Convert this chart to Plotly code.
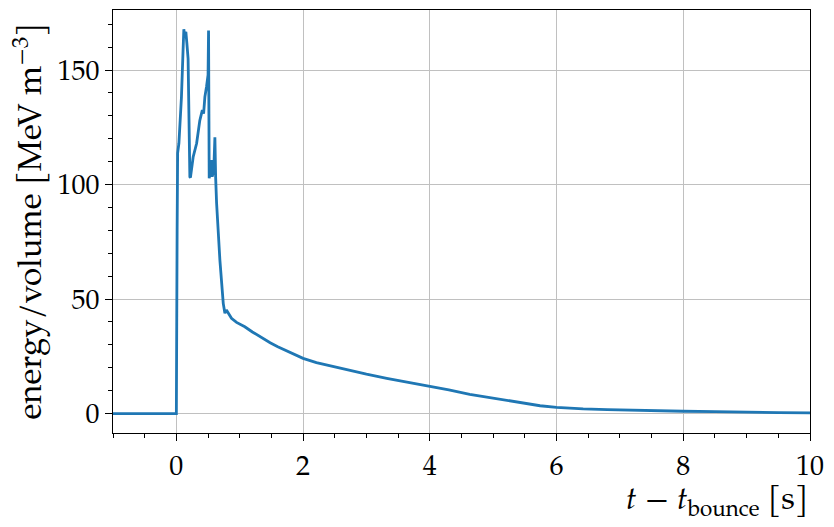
import plotly.graph_objects as go

# values
t_post = [-1.2, 0.0, 0.012, 0.02, 0.04, 0.08, 0.105, 0.118, 0.13, 0.15, 0.165, 0.175, 0.185,
          0.213, 0.222, 0.265, 0.32, 0.37, 0.41, 0.43, 0.45, 0.476, 0.49, 0.5, 0.508,
          0.518, 0.535, 0.555, 0.565, 0.59, 0.608, 0.615, 0.62, 0.635, 0.66, 0.687,
          0.74, 0.766, 0.79, 0.87, 0.95, 1.08, 1.2, 1.32, 1.48, 1.6, 1.74, 2.0, 2.21,
          2.45, 2.69, 3.0, 3.32, 3.65, 4.0, 4.3, 4.63, 4.9, 5.1, 5.42, 5.74, 6.0,
          6.42, 6.8, 7.21, 7.6, 8.0, 8.5, 9.05, 9.5, 10.2]
energy_density = [0.0, 0.0, 80.0, 113.7, 118.0, 138.0, 158.0, 167.8, 165.0, 166.7, 162.0, 158.7, 155.0,
                  103.4, 103.0, 112.0, 118.0, 128.0, 132.5, 131.0, 138.3, 142.7, 145.0, 147.8, 167.2,
                  102.7, 105.0, 110.7, 103.4, 106.0, 120.6, 103.4, 103.0, 91.8, 79.0, 67.0,
                  48.1, 43.8, 45.2, 41.6, 39.8, 37.9, 35.6, 33.5, 30.9, 29.2, 27.4, 24.1, 22.2,
                  20.6, 19.0, 17.2, 15.4, 13.7, 12.0, 10.3, 8.4, 7.1, 6.2, 4.7, 3.4, 2.7,
                  2.0, 1.7, 1.4, 1.2, 1.0, 0.8, 0.5, 0.4, 0.3]

x_ticks = [0, 2, 4, 6, 8, 10]
y_ticks = [0, 50, 100, 150]

font_family = "P052, 'TeX Gyre Pagella', 'Palatino Linotype', Palatino, 'Liberation Serif', serif"

fig = go.Figure()

fig.add_trace(
    go.Scatter(
        x=t_post,
        y=energy_density,
        mode='lines',
        line={'color': '#1f77b4', 'width': 2.8},
        showlegend=False
    )
)

# the page puts the figure 8px in from the top-left corner
fig.update_layout(
    width=826,
    height=519,
    plot_bgcolor='white',
    paper_bgcolor='white',
    font={'family': font_family, 'size': 28, 'color': 'black'},
    margin=dict(l=105, r=24, t=2, b=94)
)

fig.update_xaxes(
    range=[-1, 10],
    tickvals=x_ticks,
    ticks='outside',
    ticklen=7,
    tickcolor='black',
    showline=True,
    linecolor='black',
    linewidth=1,
    mirror=True,
    showgrid=True,
    gridcolor='#c0c0c0',
    gridwidth=1,
    zeroline=False,
    minor=dict(dtick=0.5, ticks='outside', ticklen=4, tickcolor='black', showgrid=False)
)

fig.update_yaxes(
    range=[-8.5, 176.2],
    tickvals=y_ticks,
    ticks='outside',
    ticklen=7,
    tickcolor='black',
    showline=True,
    linecolor='black',
    linewidth=1,
    mirror=True,
    showgrid=True,
    gridcolor='#c0c0c0',
    gridwidth=1,
    zeroline=False,
    minor=dict(dtick=10, ticks='outside', ticklen=4, tickcolor='black', showgrid=False)
)

fig.add_annotation(
    x=1, y=-0.167, xref='paper', yref='paper',
    xanchor='right', yanchor='middle',
    text='<i>t</i> − <i>t</i><sub>bounce</sub> [s]',
    showarrow=False,
    font={'size': 32, 'color': 'black'}
)

fig.add_annotation(
    x=-0.119, y=0.5, xref='paper', yref='paper',
    xanchor='center', yanchor='middle',
    textangle=-90,
    text='energy/volume [MeV m<sup>−3</sup>]',
    showarrow=False,
    font={'size': 33, 'color': 'black'}
)

fig.write_html("out.html")
